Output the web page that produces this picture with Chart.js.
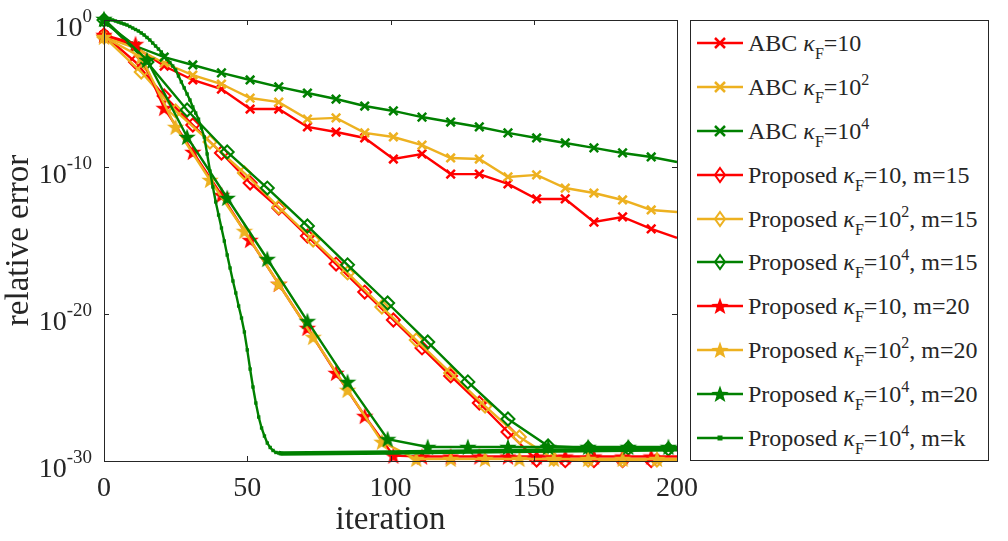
<!DOCTYPE html>
<html lang="en">
<head>
    <meta charset="UTF-8">
    <title>Relative error vs iteration</title>
    <script src="https://cdn.jsdelivr.net/npm/chart.js"></script>
    <style>
        body {
            margin: 0;
            background: #ffffff;
            font-family: "Liberation Serif", "Times New Roman", serif;
            color: #262626;
        }

        .wrap {
            position: relative;
            width: 1008px;
            height: 541px;
        }

        #legend {
            position: absolute;
            left: 690px;
            top: 20px;
            width: 297px;
            height: 439px;
            border: 1px solid #262626;
            background: #ffffff;
        }

        .row {
            height: 43.9px;
            display: flex;
            align-items: center;
            font-size: 24px;
            line-height: 1;
            white-space: nowrap;
        }

        .row svg {
            flex: none;
            width: 46px;
            height: 30px;
            margin-left: 6px;
            margin-right: 5px;
        }

        .row sub {
            font-size: 16px;
            line-height: 0;
            vertical-align: -8px;
        }

        .row sup {
            font-size: 16px;
            line-height: 0;
            vertical-align: 10px;
        }

        /* y tick labels: 10 with a raised exponent */
        .ytick {
            position: absolute;
            right: 916px;
            font-size: 28px;
            line-height: 1;
            white-space: nowrap;
        }

        .ytick sup {
            font-size: 19px;
            line-height: 0;
            vertical-align: 14px;
        }
    </style>
</head>
<body>
    <div class="wrap" id="wrap">
        <canvas id="errChart" width="1008" height="541"></canvas>
        <div id="legend"></div>
    </div>

    <script>
        // axis ticks
        const xTicks = [0, 50, 100, 150, 200];
        const yTicks = [1e0, 1e-10, 1e-20, 1e-30];
        const yTickExp = ['0', '-10', '-20', '-30'];

        // iterations where samples were read (marker positions + end of line)
        const it10 = [0, 11, 21, 31, 41, 51, 61, 71, 81, 91, 101, 111, 121, 131, 141, 151, 161, 171, 181, 191, 200];
        const it12 = [0, 13, 25, 37, 49, 61, 73, 85, 97, 109, 121, 133, 145, 157, 169, 181, 193, 200];
        const it14 = [0, 15, 29, 43, 57, 71, 85, 99, 113, 127, 141, 155, 169, 183, 197, 200];

        // ABC
        const abcK1 = [9.5e-2, 1.46e-2, 7.4e-4, 8.3e-5, 2.0e-5, 8.8e-7, 8.8e-7, 5.3e-8, 2.4e-8, 9.4e-9, 3.5e-10, 7.7e-10, 3.3e-11, 3.3e-11, 7.0e-12, 6.7e-13, 6.7e-13, 1.8e-14, 4.0e-14, 6.1e-15, 1.5e-15];
        const abcK2 = [7.0e-2, 1.24e-2, 1.19e-3, 1.8e-4, 4.4e-5, 4.9e-6, 2.6e-6, 1.8e-7, 2.2e-7, 2.1e-8, 1.1e-8, 3.1e-9, 4.1e-10, 3.5e-10, 2.1e-11, 2.9e-11, 3.7e-12, 1.7e-12, 5.7e-13, 1.19e-13, 8.7e-14];
        const abcK4 = [0.73, 1.7e-2, 3.0e-3, 8.7e-4, 2.5e-4, 8.3e-5, 2.8e-5, 1.08e-5, 4.2e-6, 1.41e-6, 6.5e-7, 2.5e-7, 1.15e-7, 5.3e-8, 2.1e-8, 9.4e-9, 4.3e-9, 2.0e-9, 9.0e-10, 4.8e-10, 2.2e-10];

        // Proposed, m=15
        const pK1m15 = [9.5e-2, 1.39e-3, 6.8e-6, 7.2e-8, 9.0e-10, 8.2e-12, 1.6e-13, 2.0e-15, 2.5e-17, 3.1e-19, 3.9e-21, 4.9e-23, 6.1e-25, 8.8e-27, 9.4e-29, 1.17e-30, 1.05e-30, 1.05e-30, 1.05e-30, 1.05e-30, 1.05e-30];
        const pK2m15 = [7.0e-2, 2.9e-4, 6.5e-7, 5.0e-9, 3.9e-11, 1.9e-13, 1.08e-15, 6.2e-18, 3.0e-20, 1.7e-22, 9.7e-25, 5.5e-27, 4.3e-29, 1.37e-30, 1.17e-30, 1.17e-30, 1.17e-30, 1.17e-30];
        const pK4m15 = [1.0, 1.39e-3, 7.5e-7, 1.05e-9, 3.7e-12, 9.7e-15, 2.2e-17, 5.6e-20, 1.24e-22, 2.4e-25, 7.2e-28, 1.05e-29, 7.7e-30, 7.7e-30, 6.5e-30, 6.5e-30];

        // Proposed, m=20
        const pK1m20 = [9.5e-2, 2.3e-2, 1.03e-6, 1.05e-9, 1.24e-12, 1.08e-15, 1.1e-18, 1.12e-21, 9.7e-25, 1.15e-27, 2.3e-30, 2.0e-30, 2.0e-30, 2.0e-30, 2.0e-30, 2.0e-30, 2.0e-30, 2.0e-30, 2.0e-30, 2.0e-30, 2.0e-30];
        const pK2m20 = [7.0e-2, 3.0e-3, 5.3e-8, 1.31e-11, 4.4e-15, 1.1e-18, 2.7e-22, 6.8e-26, 2.0e-29, 1.37e-30, 1.37e-30, 1.37e-30, 1.37e-30, 1.37e-30, 1.37e-30, 1.37e-30, 1.37e-30, 1.37e-30];
        const pK4m20 = [1.17, 1.9e-3, 1.1e-8, 7.8e-13, 5.5e-17, 3.3e-21, 2.4e-25, 3.1e-29, 9.0e-30, 9.0e-30, 9.0e-30, 9.0e-30, 9.0e-30, 9.0e-30, 9.0e-30, 9.0e-30];

        // Proposed, m=k (every iteration until it flattens)
        const mkIter = [0, 1, 2, 3, 4, 5, 6, 7, 8, 9, 10, 11, 12, 13, 14, 15, 16, 17, 18, 19, 20,
            21, 22, 23, 24, 25, 26, 27, 28, 29, 30, 31, 32, 33, 34, 35, 36, 37, 38, 39, 40,
            41, 42, 43, 44, 45, 46, 47, 48, 49, 50, 51, 52, 53, 54, 55, 56, 57, 58, 59, 60,
            61, 62, 100, 150, 200];
        const mkErr = [1.17, 1.12, 1.06, 1.0, 0.855, 0.73, 0.625, 0.535, 0.457, 0.361, 0.286,
            0.226, 0.179, 0.131, 0.0955, 0.0646, 0.0436, 0.0272, 0.017, 0.0106, 6.65e-3,
            3.85e-3, 2.22e-3, 1.29e-3, 7.4e-4, 4.0e-4, 1.55e-4, 6.1e-5, 2.4e-5, 9.2e-6, 3.6e-6,
            1.21e-6, 4.7e-7, 1.8e-7, 4.5e-8, 1.1e-8, 7.7e-10, 5.3e-11, 4.4e-12, 4.2e-13, 5.4e-14,
            7.1e-15, 9.2e-16, 1.03e-16, 1.35e-17, 1.76e-18, 2.7e-19, 3.5e-20, 5.3e-21, 6.0e-22, 3.6e-23,
            1.8e-24, 1.08e-25, 8.8e-27, 9.8e-28, 1.76e-28, 5.0e-29, 1.67e-29, 8.3e-30, 5.2e-30, 3.8e-30,
            3.5e-30, 3.3e-30, 3.8e-30, 4.9e-30, 6.3e-30];

        // legend text parts
        const methods = ['ABC', 'ABC', 'ABC', 'Proposed', 'Proposed', 'Proposed', 'Proposed', 'Proposed', 'Proposed', 'Proposed'];
        const kappaExp = ['', '2', '4', '', '2', '4', '', '2', '4', '4'];
        const mValues = ['', '', '', '15', '15', '15', '20', '20', '20', 'k'];

        const RED = '#FF0000';
        const YELLOW = '#EDB120';
        const GREEN = '#008000';
        const AXIS = '#262626';
        const FONT = '"Liberation Serif", "Times New Roman", serif';

        // filled five-point star used as a marker
        function starPoints(cx, cy, rOut, rIn) {
            const pts = [];
            for (let i = 0; i < 10; i++) {
                const r = i % 2 === 0 ? rOut : rIn;
                const a = -Math.PI / 2 + i * Math.PI / 5;
                pts.push([cx + r * Math.cos(a), cy + r * Math.sin(a)]);
            }
            return pts;
        }

        function makeStar(color) {
            const c = document.createElement('canvas');
            c.width = 20;
            c.height = 20;
            const g = c.getContext('2d');
            g.fillStyle = color;
            g.beginPath();
            starPoints(10, 10.7, 9.2, 3.7).forEach((p, i) => i ? g.lineTo(p[0], p[1]) : g.moveTo(p[0], p[1]));
            g.closePath();
            g.fill();
            return c;
        }

        function toPoints(iters, vals) {
            return iters.map((x, i) => ({ x: x, y: vals[i] }));
        }

        function series(label, iters, vals, color, marker, order, lastMark) {
            const ds = {
                label: label,
                data: toPoints(iters, vals),
                borderColor: color,
                borderWidth: 2.4,
                tension: 0,
                clip: false,
                order: order,
                pointBorderColor: color,
                pointHoverRadius: 0
            };
            const hide = r => c => (c.raw && c.raw.x > lastMark ? 0 : r);
            if (marker === 'x') {
                ds.pointStyle = 'crossRot';
                ds.pointRadius = hide(6);
                ds.pointBorderWidth = 2.5;
            } else if (marker === 'diamond') {
                ds.pointStyle = 'rectRot';
                ds.pointRadius = hide(6.5);
                ds.pointBorderWidth = 2;
                ds.pointBackgroundColor = 'rgba(0,0,0,0)';
            } else if (marker === 'star') {
                ds.pointStyle = makeStar(color);
                ds.pointRadius = hide(7);
            } else {
                ds.pointStyle = 'rect';
                ds.pointRadius = hide(2.4);
                ds.pointBorderWidth = 0;
                ds.pointBackgroundColor = color;
                ds.segment = { borderWidth: c => (c.p0.parsed.x >= 61 ? 4.5 : 2.4) };
            }
            return ds;
        }

        const labels = methods.map((m, i) =>
            m + ' κF=10' + kappaExp[i] + (mValues[i] ? ', m=' + mValues[i] : ''));

        const datasets = [
            series(labels[0], it10, abcK1, RED, 'x', 10, 191),
            series(labels[1], it10, abcK2, YELLOW, 'x', 9, 191),
            series(labels[2], it10, abcK4, GREEN, 'x', 8, 191),
            series(labels[3], it10, pK1m15, RED, 'diamond', 7, 191),
            series(labels[4], it12, pK2m15, YELLOW, 'diamond', 6, 193),
            series(labels[5], it14, pK4m15, GREEN, 'diamond', 5, 197),
            series(labels[6], it10, pK1m20, RED, 'star', 4, 191),
            series(labels[7], it12, pK2m20, YELLOW, 'star', 3, 193),
            series(labels[8], it14, pK4m20, GREEN, 'star', 2, 197),
            series(labels[9], mkIter, mkErr, GREEN, 'square', 1, 62)
        ];

        // box and inward ticks, drawn like the original axes
        const boxTicks = {
            id: 'boxTicks',
            afterDraw(chart) {
                const { ctx, chartArea: a, scales } = chart;
                ctx.save();
                ctx.strokeStyle = AXIS;
                ctx.lineWidth = 1;
                ctx.strokeRect(a.left + 0.5, a.top + 0.5, a.right - a.left, a.bottom - a.top);
                ctx.beginPath();
                xTicks.forEach(v => {
                    const px = Math.round(scales.x.getPixelForValue(v)) + 0.5;
                    ctx.moveTo(px, a.bottom); ctx.lineTo(px, a.bottom - 5);
                    ctx.moveTo(px, a.top); ctx.lineTo(px, a.top + 5);
                });
                yTicks.forEach(v => {
                    const py = Math.round(scales.y.getPixelForValue(v)) + 0.5;
                    ctx.moveTo(a.left, py); ctx.lineTo(a.left + 5, py);
                    ctx.moveTo(a.right, py); ctx.lineTo(a.right - 5, py);
                });
                ctx.stroke();
                ctx.restore();
            }
        };

        const chart = new Chart(document.getElementById('errChart'), {
            type: 'line',
            data: { datasets: datasets },
            options: {
                responsive: false,
                animation: false,
                events: [],
                layout: { padding: { top: 20, right: 331, left: 0, bottom: 0 } },
                plugins: {
                    legend: { display: false },
                    tooltip: { enabled: false }
                },
                scales: {
                    x: {
                        type: 'linear',
                        min: 0,
                        max: 200,
                        afterBuildTicks: s => { s.ticks = xTicks.map(v => ({ value: v })); },
                        afterFit: s => { s.height = 80; },
                        grid: { display: false, drawTicks: false },
                        border: { display: false },
                        ticks: {
                            color: AXIS,
                            font: { family: FONT, size: 28 },
                            padding: 11,
                            maxRotation: 0
                        },
                        title: {
                            display: true,
                            text: 'iteration',
                            color: AXIS,
                            font: { family: FONT, size: 33 },
                            padding: { top: 0, bottom: 1 }
                        }
                    },
                    y: {
                        type: 'logarithmic',
                        min: 1e-30,
                        max: 1,
                        afterBuildTicks: s => { s.ticks = yTicks.map(v => ({ value: v })); },
                        afterFit: s => { s.width = 104; },
                        grid: { display: false, drawTicks: false },
                        border: { display: false },
                        ticks: { display: false },
                        title: {
                            display: true,
                            text: 'relative error',
                            color: AXIS,
                            font: { family: FONT, size: 33 },
                            padding: { top: 0, bottom: 0 }
                        }
                    }
                }
            },
            plugins: [boxTicks]
        });

        // y tick labels as 10 with a raised exponent, placed on the scale's pixels
        const wrap = document.getElementById('wrap');
        yTicks.forEach((v, i) => {
            const el = document.createElement('div');
            el.className = 'ytick';
            el.innerHTML = '10<sup>' + yTickExp[i] + '</sup>';
            el.style.top = (chart.scales.y.getPixelForValue(v) - 7) + 'px';
            wrap.appendChild(el);
        });

        // legend with sub/superscripts
        function markerSvg(kind, color) {
            let m = '';
            if (kind === 'x') {
                m = `<path d="M18 10 L28 20 M28 10 L18 20" stroke="${color}" stroke-width="2.5"/>`;
            } else if (kind === 'diamond') {
                m = `<polygon points="23,8 28,15 23,22 18,15" fill="none" stroke="${color}" stroke-width="2"/>`;
            } else if (kind === 'star') {
                const pts = starPoints(23, 15.7, 9.2, 3.7).map(p => p[0].toFixed(1) + ',' + p[1].toFixed(1)).join(' ');
                m = `<polygon points="${pts}" fill="${color}"/>`;
            } else {
                m = `<rect x="20.5" y="12.5" width="5" height="5" fill="${color}"/>`;
            }
            return `<svg viewBox="0 0 46 30"><line x1="0" y1="15" x2="46" y2="15" stroke="${color}" stroke-width="2.4"/>${m}</svg>`;
        }

        const legendColors = [RED, YELLOW, GREEN, RED, YELLOW, GREEN, RED, YELLOW, GREEN, GREEN];
        const legendMarkers = ['x', 'x', 'x', 'diamond', 'diamond', 'diamond', 'star', 'star', 'star', 'square'];
        document.getElementById('legend').innerHTML = methods.map((m, i) => {
            const txt = m + ' <i>κ</i><sub>F</sub>=10' + (kappaExp[i] ? '<sup>' + kappaExp[i] + '</sup>' : '') +
                (mValues[i] ? ', m=' + mValues[i] : '');
            return `<div class="row">${markerSvg(legendMarkers[i], legendColors[i])}<span>${txt}</span></div>`;
        }).join('');
    </script>
</body>
</html>
